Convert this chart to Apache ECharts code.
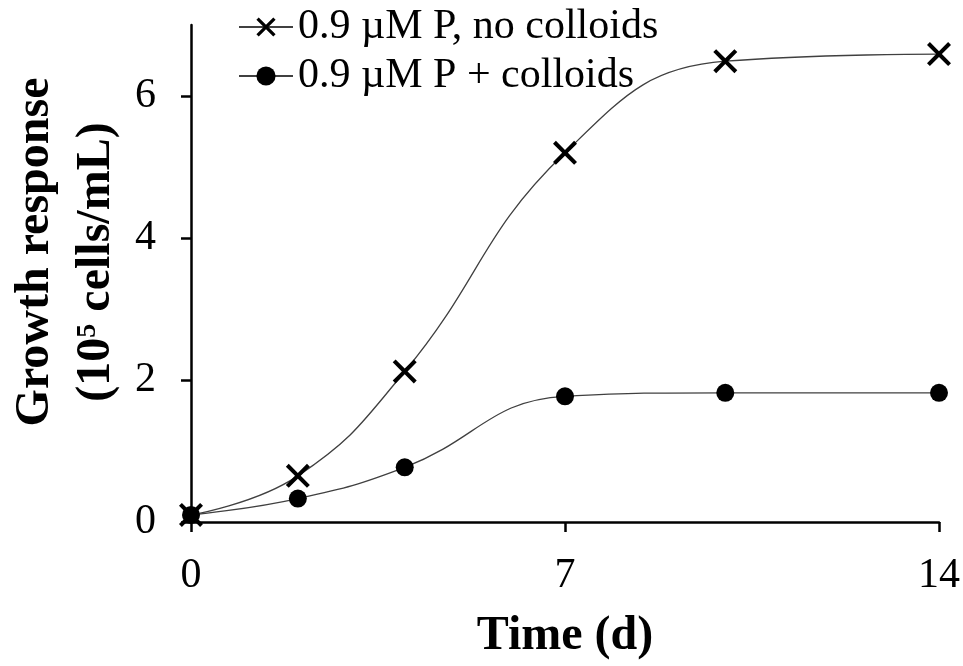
<!DOCTYPE html>
<html><head><meta charset="utf-8">
<script src="https://cdn.jsdelivr.net/npm/echarts@6/dist/echarts.min.js"></script>
<style>html,body{margin:0;padding:0;background:#fff}#c{width:963px;height:666px}</style>
</head><body><div id="c"></div>
<script>
const days = [0, 2, 4, 7, 10, 14];
const noColloids = [0.10, 0.65, 2.12, 5.20, 6.49, 6.59];
const withColloids = [0.10, 0.33, 0.77, 1.77, 1.82, 1.82];
const seriesNames = ['0.9 \u00b5M P, no colloids', '0.9 \u00b5M P + colloids'];
const xTicks = [0, 7, 14];
const yTicks = [0, 2, 4, 6];

const FONT = '"Liberation Serif", "Times New Roman", serif';
const crossPath = 'path://M0,1.2L1.2,0L5,3.8L8.8,0L10,1.2L6.2,5L10,8.8L8.8,10L5,6.2L1.2,10L0,8.8L3.8,5Z';

const chart = echarts.init(document.getElementById('c'));
chart.setOption({
  animation: false,
  backgroundColor: '#fff',
  grid: { left: 191, right: 23, top: 25, bottom: 138 },
  xAxis: {
    type: 'value', min: 0, max: 14, interval: 7,
    axisLine: { onZero: false, lineStyle: { color: '#000', width: 2.5 } },
    axisTick: { show: true, length: 10, customValues: xTicks, lineStyle: { color: '#000', width: 2.5 } },
    splitLine: { show: false },
    axisLabel: { color: '#000', fontFamily: FONT, fontSize: 42, margin: 33, customValues: xTicks },
    name: 'Time (d)', nameLocation: 'middle', nameGap: 91,
    nameTextStyle: { color: '#000', fontFamily: FONT, fontSize: 48, fontWeight: 'bold' }
  },
  yAxis: {
    type: 'value', min: 0, max: 7,
    axisLine: { show: true, lineStyle: { color: '#000', width: 2.5 } },
    axisTick: { show: true, length: 10, customValues: yTicks, lineStyle: { color: '#000', width: 2.5 } },
    splitLine: { show: false },
    axisLabel: { color: '#000', fontFamily: FONT, fontSize: 42, margin: 35, customValues: yTicks }
  },
  legend: {
    orient: 'vertical', left: 233, top: 1, itemWidth: 54, itemHeight: 24, itemGap: 7,
    textStyle: { color: '#000', fontFamily: FONT, fontSize: 42, lineHeight: 42 },
    data: seriesNames
  },
  graphic: [
    { type: 'text', rotation: Math.PI / 2, position: [36, 252],
      style: { text: 'Growth response', font: 'bold 48px ' + FONT, fill: '#000',
        textAlign: 'center', textVerticalAlign: 'middle' } },
    { type: 'text', rotation: Math.PI / 2, position: [97, 262],
      style: {
        text: '{b|(10}{s|5}{b| cells/mL)}',
        rich: {
          b: { font: 'bold 48px ' + FONT, fill: '#000', color: '#000' },
          s: { font: 'bold 28px ' + FONT, fill: '#000', color: '#000', padding: [0, 0, 18, 0] }
        },
        textAlign: 'center', textVerticalAlign: 'middle' } }
  ],
  series: [
    { name: seriesNames[0], type: 'line', smooth: 0.45,
      data: days.map((d, i) => [d, noColloids[i]]),
      symbol: crossPath, symbolSize: 24,
      lineStyle: { color: '#404040', width: 1.3 },
      itemStyle: { color: '#000' } },
    { name: seriesNames[1], type: 'line', smooth: 0.45,
      data: days.map((d, i) => [d, withColloids[i]]),
      symbol: 'circle', symbolSize: 18,
      lineStyle: { color: '#404040', width: 1.3 },
      itemStyle: { color: '#000' } }
  ]
});
</script></body></html>
